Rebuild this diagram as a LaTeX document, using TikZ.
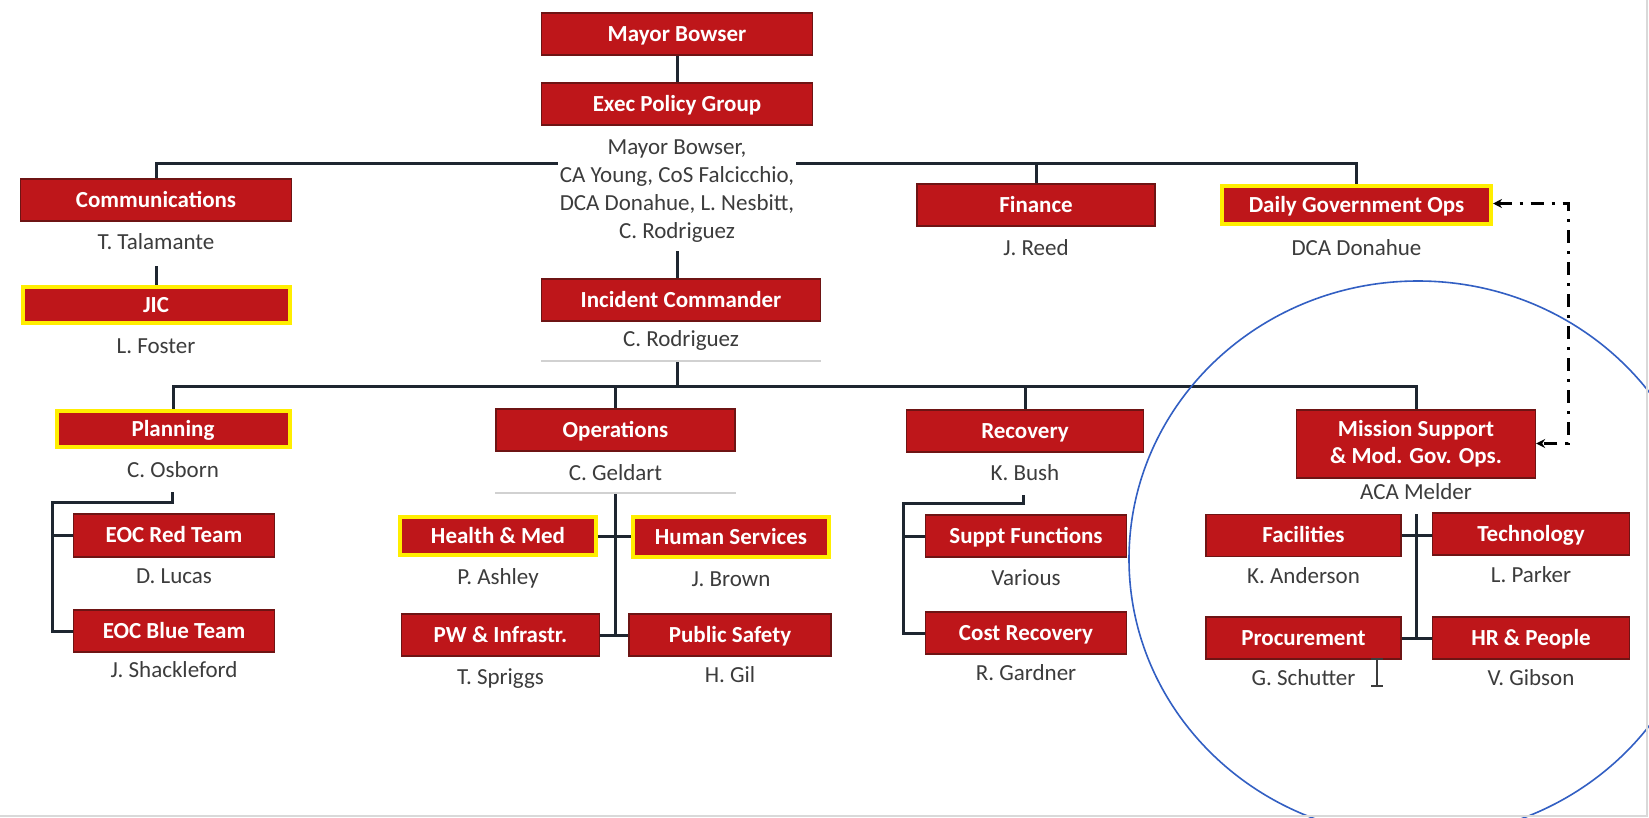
\documentclass[tikz,border=0pt]{standalone}
\usepackage{fontspec}
\setmainfont{Carlito}
\usetikzlibrary{arrows.meta}
\pgfdeclarelayer{bg}
\pgfsetlayers{bg,main}
\definecolor{boxred}{RGB}{190,22,26}
\definecolor{boxedge}{RGB}{110,20,20}
\definecolor{hlyellow}{RGB}{255,238,0}
\definecolor{namegray}{RGB}{60,60,60}
\definecolor{lineblack}{RGB}{30,38,48}
\definecolor{ellblue}{RGB}{50,95,195}
\tikzset{
  boxbase/.style={fill=boxred, draw=boxedge, line width=1.2pt, text=white,
    font=\bfseries\fontsize{23}{27}\selectfont, inner sep=2pt, minimum height=42pt, align=center},
  box/.style={boxbase, text height=15pt, text depth=1pt},
  hlbox/.style={box, draw=hlyellow, line width=4pt},
  nm/.style={text=namegray, font=\fontsize{23}{27.8}\selectfont, inner sep=1pt, align=center},
  conn/.style={draw=lineblack, line width=3pt},
  sepline/.style={draw=black!18, line width=1.2pt},
  ddash/.style={draw=black, line width=3pt, dash pattern=on 13pt off 8pt on 3pt off 8pt,
    arrows={Stealth[length=9pt,width=9pt]-Stealth[length=9pt,width=9pt]}}
}
\begin{document}
\begin{tikzpicture}[x=1pt,y=-1pt]
\useasboundingbox (0,0) rectangle (1649,817);
\begin{pgfonlayer}{bg}
\fill[white] (0,0) rectangle (1649,817);
\end{pgfonlayer}
% boxes and names
\node[box, minimum width=271pt] (mayor) at (677,34) {Mayor Bowser};
\node[box, minimum width=271pt] (epg) at (677,104) {Exec Policy Group};
\node[nm, fill=white, inner sep=2pt] (epgn) at (677,191) {Mayor Bowser,\\CA Young, CoS Falcicchio,\\DCA Donahue, L. Nesbitt,\\C. Rodriguez};
\node[box, minimum width=271pt] (comm) at (156,200) {Communications};
\node[nm] (commn) at (156,242) {T. Talamante};
\node[hlbox, minimum width=267pt, minimum height=36pt] (jic) at (156,305) {JIC};
\node[nm] (jicn) at (156,346) {L. Foster};
\node[box, minimum width=238pt] (fin) at (1036,205) {Finance};
\node[nm] (finn) at (1036,248) {J. Reed};
\node[hlbox, minimum width=269pt, minimum height=38pt] (daily) at (1356.5,205) {Daily Government Ops};
\node[nm] (dailyn) at (1356.5,248) {DCA Donahue};
\node[box, minimum width=279pt] (ic) at (681,300) {Incident Commander};
\node[nm] (icn) at (681,340) {C. Rodriguez};
\node[hlbox, minimum width=233pt, minimum height=36pt] (plan) at (173,429) {Planning};
\node[nm] (plann) at (173,470) {C. Osborn};
\node[box, minimum width=239pt] (ops) at (615.5,430) {Operations};
\node[nm] (opsn) at (615.5,473) {C. Geldart};
\node[box, minimum width=237pt] (rec) at (1025,431) {Recovery};
\node[nm] (recn) at (1025,473) {K. Bush};
\node[boxbase, minimum width=239pt, minimum height=68pt] (ms) at (1416,444) {Mission Support\\\&~Mod. Gov. Ops.};
\node[nm] (msn) at (1416,492) {ACA Melder};
\node[box, minimum width=201pt, minimum height=43pt] (red) at (174,535.5) {EOC Red Team};
\node[nm] (redn) at (174,576) {D. Lucas};
\node[box, minimum width=201pt] (blue) at (174,631) {EOC Blue Team};
\node[nm] (bluen) at (174,670) {J. Shackleford};
\node[hlbox, minimum width=196pt, minimum height=38pt] (hm) at (498,536) {Health \& Med};
\node[nm] (hmn) at (498,578) {P. Ashley};
\node[hlbox, minimum width=196pt, minimum height=40pt] (hs) at (731,537) {Human Services};
\node[nm] (hsn) at (731,579) {J. Brown};
\node[box, minimum width=198pt] (pw) at (500.5,635) {PW \& Infrastr.};
\node[nm] (pwn) at (500.5,679) {T. Spriggs};
\node[box, minimum width=202pt] (ps) at (730,635) {Public Safety};
\node[nm] (psn) at (730,675) {H. Gil};
\node[box, minimum width=201pt] (sf) at (1026,536) {Suppt Functions};
\node[nm] (sfn) at (1026,578) {Various};
\node[box, minimum width=201pt] (cr) at (1026,633) {Cost Recovery};
\node[nm] (crn) at (1026,673) {R. Gardner};
\node[box, minimum width=195pt] (fac) at (1303.5,535.5) {Facilities};
\node[nm] (facn) at (1303.5,576) {K. Anderson};
\node[box, minimum width=197pt] (tech) at (1531,534) {Technology};
\node[nm] (techn) at (1531,575) {L. Parker};
\node[box, minimum width=195pt] (proc) at (1303.5,638) {Procurement};
\node[nm] (procn) at (1303.5,678) {G. Schutter};
\node[box, minimum width=197pt] (hr) at (1531,638) {HR \& People};
\node[nm] (hrn) at (1531,678) {V. Gibson};
% coordinates
\coordinate (b1) at (677,163);
\coordinate (icbar) at (677.5,361);
\coordinate (b2) at (677.5,386.5);
\coordinate (pt) at (172,492);
\coordinate (pv) at (52,502);
\coordinate (obar) at (615.5,493);
\coordinate (rt) at (1023,495);
\coordinate (rv) at (903.5,503);
\coordinate (mtop) at (1416,514);
\coordinate (dtop) at (1568,203.5);
\coordinate (dbot) at (1568,443.5);
\begin{pgfonlayer}{bg}
\draw[conn] (mayor) -- (epg);
\draw[conn] (comm.north) |- (b1) -| (daily.north);
\draw[conn] (fin.north) -- (fin.north |- b1);
\draw[conn] (epgn.south) ++(0,7) -- (epgn.south |- ic.north);
\draw[conn] (icbar) -- (b2);
\draw[conn] (plan.north) |- (b2) -| (ms.north);
\draw[conn] (ops.north) -- (ops.north |- b2);
\draw[conn] (rec.north) -- (rec.north |- b2);
\draw[conn] (jic.north) -- ++(0,-19);
% planning
\draw[conn] (pt) |- (pv) |- (blue.west);
\draw[conn] (pv |- red.west) -- (red.west);
% operations
\draw[conn] (obar) -- (obar |- ps.west);
\draw[conn] (hm.east) -- (hm.east -| hs.west);
\draw[conn] (pw.east) -- (ps.west);
% recovery
\draw[conn] (rt) |- (rv) |- (cr.west);
\draw[conn] (rv |- sf.west) -- (sf.west);
% mission support
\draw[conn] (mtop) -- (mtop |- hr.west);
\draw[conn] (fac.east) -- (fac.east -| tech.west);
\draw[conn] (proc.east) -- (hr.west);
\end{pgfonlayer}
% separator lines
\draw[sepline] (ic.west |- icbar) -- (ic.east |- icbar);
\draw[sepline] (ops.west |- obar) -- (ops.east |- obar);
% dash-dot link
\draw[ddash] (daily.east |- dtop) -- (dtop) -- (dbot) -- (ms.east |- dbot);
% cursor
\draw[namegray, line width=1.5pt] (1377,659) -- (1377,686) (1371,659) -- (1383,659) (1371,686) -- (1383,686);
% ellipse
\begin{scope}
\clip (0,0) rectangle (1649,817);
\draw[ellblue, line width=1.6pt] (1418,559) ellipse [x radius=289, y radius=278];
\end{scope}
% frame
\draw[black!15, line width=2pt] (1647,0) -- (1647,815.5) -- (0,815.5);
\end{tikzpicture}
\end{document}
